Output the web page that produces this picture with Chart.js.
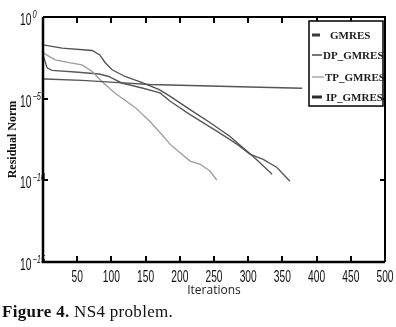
<!DOCTYPE html>
<html><head><meta charset="utf-8">
<script src="https://cdn.jsdelivr.net/npm/chart.js@4.4.1/dist/chart.umd.min.js"></script>
<style>
html,body{margin:0;padding:0;background:#fff;}
#wrap{position:relative;width:396px;height:327px;}
canvas{position:absolute;left:0;top:0;}
#cap{position:absolute;left:2px;top:302px;font-family:"Liberation Serif","Times New Roman",serif;font-size:17px;color:#111;white-space:nowrap;letter-spacing:0.3px;}
</style></head><body>
<div id="wrap"><canvas id="c" width="396" height="327"></canvas>
<div id="cap"><b>Figure 4.</b> NS4 problem.</div></div>
<script>
// ---- data (x = iterations, y = log10 of residual norm) ----
const seriesNames = ['GMRES', 'DP_GMRES', 'TP_GMRES', 'IP_GMRES'];
const gmresIter = [0, 3, 57, 105, 156, 230, 303, 379];
const gmresLog  = [-3.78, -3.80, -3.88, -4.00, -4.13, -4.21, -4.29, -4.36];
const dpIter = [0, 28, 72, 83, 91, 101, 120, 145, 170, 186, 215, 244, 273, 292, 307, 335];
const dpLog  = [-1.71, -1.91, -2.05, -2.32, -2.80, -3.23, -3.64, -4.02, -4.45, -4.86, -5.67, -6.46, -7.30, -7.99, -8.52, -9.63];
const tpIter = [0, 18, 38, 57, 72, 86, 105, 135, 156, 171, 186, 200, 215, 230, 244, 254];
const tpLog  = [-2.20, -2.62, -2.79, -2.93, -3.34, -3.95, -4.65, -5.55, -6.38, -7.07, -7.80, -8.29, -8.82, -9.02, -9.43, -9.98];
const ipIter = [0, 6, 13, 47, 82, 96, 115, 145, 171, 186, 215, 254, 284, 303, 322, 342, 361];
const ipLog  = [-2.32, -3.11, -3.27, -3.37, -3.49, -3.64, -4.04, -4.35, -4.65, -5.16, -5.98, -6.99, -7.80, -8.41, -8.72, -9.21, -10.06];
const xTickValues = [50, 100, 150, 200, 250, 300, 350, 400, 450, 500];
const yTickExponents = [0, -5, -10, -15];

const toPts = (xs, ls) => xs.map((x, i) => ({x: x, y: Math.pow(10, ls[i])}));

const lineColors = ['#555555', '#505050', '#9c9c9c', '#595959'];
const legendColors = ['#3a3a3a', '#4a4a4a', '#a8a8a8', '#2e2e2e'];
const legendWidths = [3, 1.5, 1.5, 3];
const LBL_FONT = '16px "Liberation Sans", Arial, sans-serif';

const framePlugin = {
  id: 'frame',
  afterDraw(chart) {
    const ctx = chart.ctx, a = chart.chartArea;
    const xs = chart.scales.x, ys = chart.scales.y;
    ctx.save();
    ctx.strokeStyle = '#000';
    // box
    ctx.lineWidth = 2;
    ctx.beginPath();
    ctx.moveTo(a.left, a.top); ctx.lineTo(a.right, a.top); ctx.lineTo(a.right, a.bottom);
    ctx.stroke();
    ctx.lineWidth = 2.5;
    ctx.beginPath();
    ctx.moveTo(a.left, a.top); ctx.lineTo(a.left, a.bottom); ctx.lineTo(a.right, a.bottom);
    ctx.stroke();
    // inward ticks
    ctx.lineWidth = 2;
    xTickValues.forEach(v => {
      if (v >= 500) return;
      const px = Math.round(xs.getPixelForValue(v));
      ctx.beginPath();
      ctx.moveTo(px, a.bottom); ctx.lineTo(px, a.bottom - 6);
      ctx.moveTo(px, a.top); ctx.lineTo(px, a.top + 6);
      ctx.stroke();
    });
    yTickExponents.forEach(e => {
      if (e === 0 || e === -15) return;
      const py = Math.round(ys.getPixelForValue(Math.pow(10, e)));
      ctx.beginPath();
      ctx.moveTo(a.left, py); ctx.lineTo(a.left + 5, py);
      ctx.moveTo(a.right, py); ctx.lineTo(a.right - 5, py);
      ctx.stroke();
    });
    ctx.fillStyle = '#111';
    // x tick labels (condensed)
    xTickValues.forEach(v => {
      const px = xs.getPixelForValue(v);
      ctx.save();
      ctx.font = LBL_FONT;
      ctx.textAlign = 'center'; ctx.textBaseline = 'alphabetic';
      ctx.translate(px, a.bottom + 20);
      ctx.scale(0.64, 1);
      ctx.fillText(String(v), 0, 0);
      ctx.restore();
    });
    // y tick labels 10^e
    yTickExponents.forEach(e => {
      const py = ys.getPixelForValue(Math.pow(10, e));
      ctx.save();
      ctx.font = LBL_FONT;
      ctx.textAlign = 'left'; ctx.textBaseline = 'alphabetic';
      const w = ctx.measureText('10').width * 0.64;
      ctx.translate(20, py + 8);
      ctx.scale(0.64, 1);
      ctx.fillText('10', 0, 0);
      ctx.restore();
      ctx.save();
      ctx.font = 'italic 10px "Liberation Sans", Arial, sans-serif';
      ctx.textAlign = 'left'; ctx.textBaseline = 'alphabetic';
      ctx.translate(20 + w + 1, py + 1);
      ctx.scale(0.75, 1);
      ctx.fillText(String(e).replace('-', '\u2212'), 0, 0);
      ctx.restore();
    });
    // legend
    const bx = a.right - 76, by = a.top + 4, bw = 74, bh = 85;
    ctx.fillStyle = '#fff';
    ctx.fillRect(bx, by, bw, bh);
    ctx.lineWidth = 1.5;
    ctx.strokeStyle = '#000';
    ctx.strokeRect(bx, by, bw, bh);
    const rowY = [14, 34, 56, 76];
    const sampleLen = [8, 10, 12, 10];
    const textX = [21, 14, 16, 17];
    ctx.font = 'bold 11px "Liberation Serif", "Times New Roman", serif';
    ctx.textBaseline = 'middle';
    ctx.textAlign = 'left';
    chart.data.datasets.forEach((ds, i) => {
      const y = by + rowY[i];
      ctx.strokeStyle = legendColors[i];
      ctx.lineWidth = legendWidths[i];
      ctx.beginPath();
      ctx.moveTo(bx + 3, y); ctx.lineTo(bx + 3 + sampleLen[i], y);
      ctx.stroke();
      ctx.fillStyle = '#1a1a1a';
      ctx.save();
      ctx.beginPath(); ctx.rect(bx, by, bw + 1, bh); ctx.clip();
      ctx.fillText(ds.label, bx + textX[i], y + 1);
      ctx.restore();
    });
    ctx.restore();
  }
};

new Chart(document.getElementById('c'), {
  type: 'line',
  data: {
    datasets: [
      {label: seriesNames[0], data: toPts(gmresIter, gmresLog), borderColor: lineColors[0], borderWidth: 1.4},
      {label: seriesNames[1], data: toPts(dpIter, dpLog), borderColor: lineColors[1], borderWidth: 1.3},
      {label: seriesNames[2], data: toPts(tpIter, tpLog), borderColor: lineColors[2], borderWidth: 1.3},
      {label: seriesNames[3], data: toPts(ipIter, ipLog), borderColor: lineColors[3], borderWidth: 1.4}
    ]
  },
  options: {
    responsive: false,
    devicePixelRatio: 1,
    animation: false,
    parsing: false,
    elements: {point: {radius: 0}, line: {tension: 0, fill: false}},
    layout: {padding: {left: 0, top: 17, right: 11, bottom: 25}},
    plugins: {legend: {display: false}, tooltip: {enabled: false}},
    scales: {
      x: {
        type: 'linear', min: 0, max: 500,
        grid: {display: false, drawTicks: false},
        border: {display: false},
        afterBuildTicks: s => { s.ticks = xTickValues.map(v => ({value: v})); },
        afterFit: s => { s.height = 40; },
        ticks: {display: false},
        title: {display: true, text: 'Iterations', color: '#222',
          font: {family: '"Open Sans", sans-serif', size: 12}, padding: {top: 0, bottom: 4}}
      },
      y: {
        type: 'logarithmic', min: 1e-15, max: 1,
        grid: {display: false, drawTicks: false},
        border: {display: false},
        afterBuildTicks: s => { s.ticks = yTickExponents.map(e => ({value: Math.pow(10, e)})); },
        afterFit: s => { s.width = 43; },
        ticks: {display: false},
        title: {display: true, text: 'Residual Norm', color: '#111',
          font: {family: '"Liberation Serif", "Times New Roman", serif', size: 12, weight: 'bold'}, padding: {top: 6, bottom: 0}}
      }
    }
  },
  plugins: [framePlugin]
});
</script>
</body></html>
